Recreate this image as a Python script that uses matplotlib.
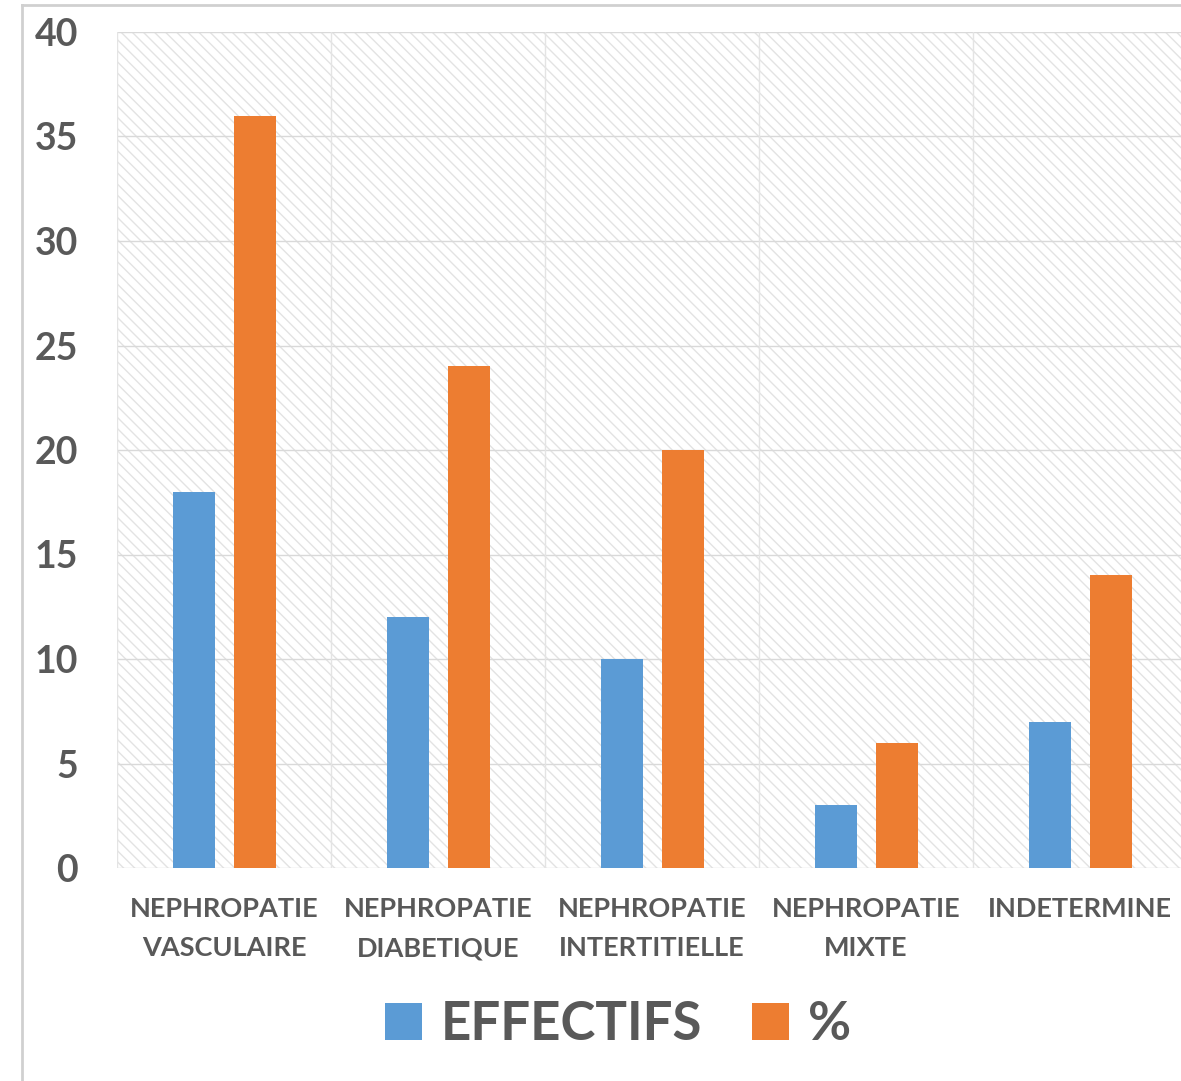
import numpy as np
import matplotlib
matplotlib.use("Agg")
import matplotlib.pyplot as plt
from matplotlib.patches import Rectangle
from matplotlib.lines import Line2D

categories = ["NEPHROPATIE\nVASCULAIRE", "NEPHROPATIE\nDIABETIQUE", "NEPHROPATIE\nINTERTITIELLE",
              "NEPHROPATIE\nMIXTE", "INDETERMINE"]
effectifs = [18, 12, 10, 3, 7]
pourcent = [36, 24, 20, 6, 14]
series_names = ["EFFECTIFS", "%"]
yticks = [0, 5, 10, 15, 20, 25, 30, 35, 40]

BLUE = "#5B9BD5"; ORANGE = "#ED7D31"; TXT = "#595959"; GRID = "#d9d9d9"
plt.rcParams["font.family"] = ["Lato", "DejaVu Sans"]
plt.rcParams["hatch.color"] = "#e3e3e3"
plt.rcParams["hatch.linewidth"] = 1.0

W, H = 1181, 1081
fig = plt.figure(figsize=(W / 100, H / 100), dpi=100)
# outer chart border
fig.add_artist(Line2D([22 / W, 22 / W], [0, 1 - 5 / H], color="#d0d0d0", lw=2))
fig.add_artist(Line2D([22 / W, 1], [1 - 5 / H, 1 - 5 / H], color="#d0d0d0", lw=2))

ax = fig.add_axes([117 / W, 1 - 868 / H, 1070 / W, (868 - 32) / H])
ax.set_xlim(-0.5, len(categories) - 0.5)
ax.set_ylim(0, 40)

# hatched plot background
ax.add_patch(Rectangle((0, 0), 1, 1, transform=ax.transAxes, facecolor="white",
                       edgecolor="#e3e3e3", hatch="\\\\\\", lw=0, zorder=0))
for y in yticks:
    ax.axhline(y, color=GRID, lw=1, zorder=1)
for i in range(len(categories) + 1):
    ax.axvline(i - 0.5, color="#e4e4e4", lw=1, zorder=1)

x = np.arange(len(categories))
bw = 42 / 214
off = 30.5 / 214
b1 = ax.bar(x - off, effectifs, width=bw, color=BLUE, zorder=3, label=series_names[0])
b2 = ax.bar(x + off, pourcent, width=bw, color=ORANGE, zorder=3, label=series_names[1])

for s in ax.spines.values():
    s.set_visible(False)
ax.set_yticks(yticks)
ax.set_yticklabels([str(v) for v in yticks], fontsize=27, fontweight="bold", color=TXT)
ax.set_xticks(x)
ax.set_xticklabels(categories, fontsize=19.5, fontweight="bold", color=TXT, linespacing=1.75)
ax.tick_params(axis="y", length=0, pad=28)
ax.tick_params(axis="x", length=0, pad=21)

leg = fig.legend(handles=[b1, b2], labels=series_names, loc="center", ncol=2,
                 bbox_to_anchor=(618 / W, 1 - 1024 / H), frameon=False,
                 prop={"size": 38, "weight": "bold"}, handlelength=0.7, handleheight=0.7,
                 handletextpad=0.35, columnspacing=0.95)
for t in leg.get_texts():
    t.set_color(TXT)

fig.savefig("out.png", dpi=100)
